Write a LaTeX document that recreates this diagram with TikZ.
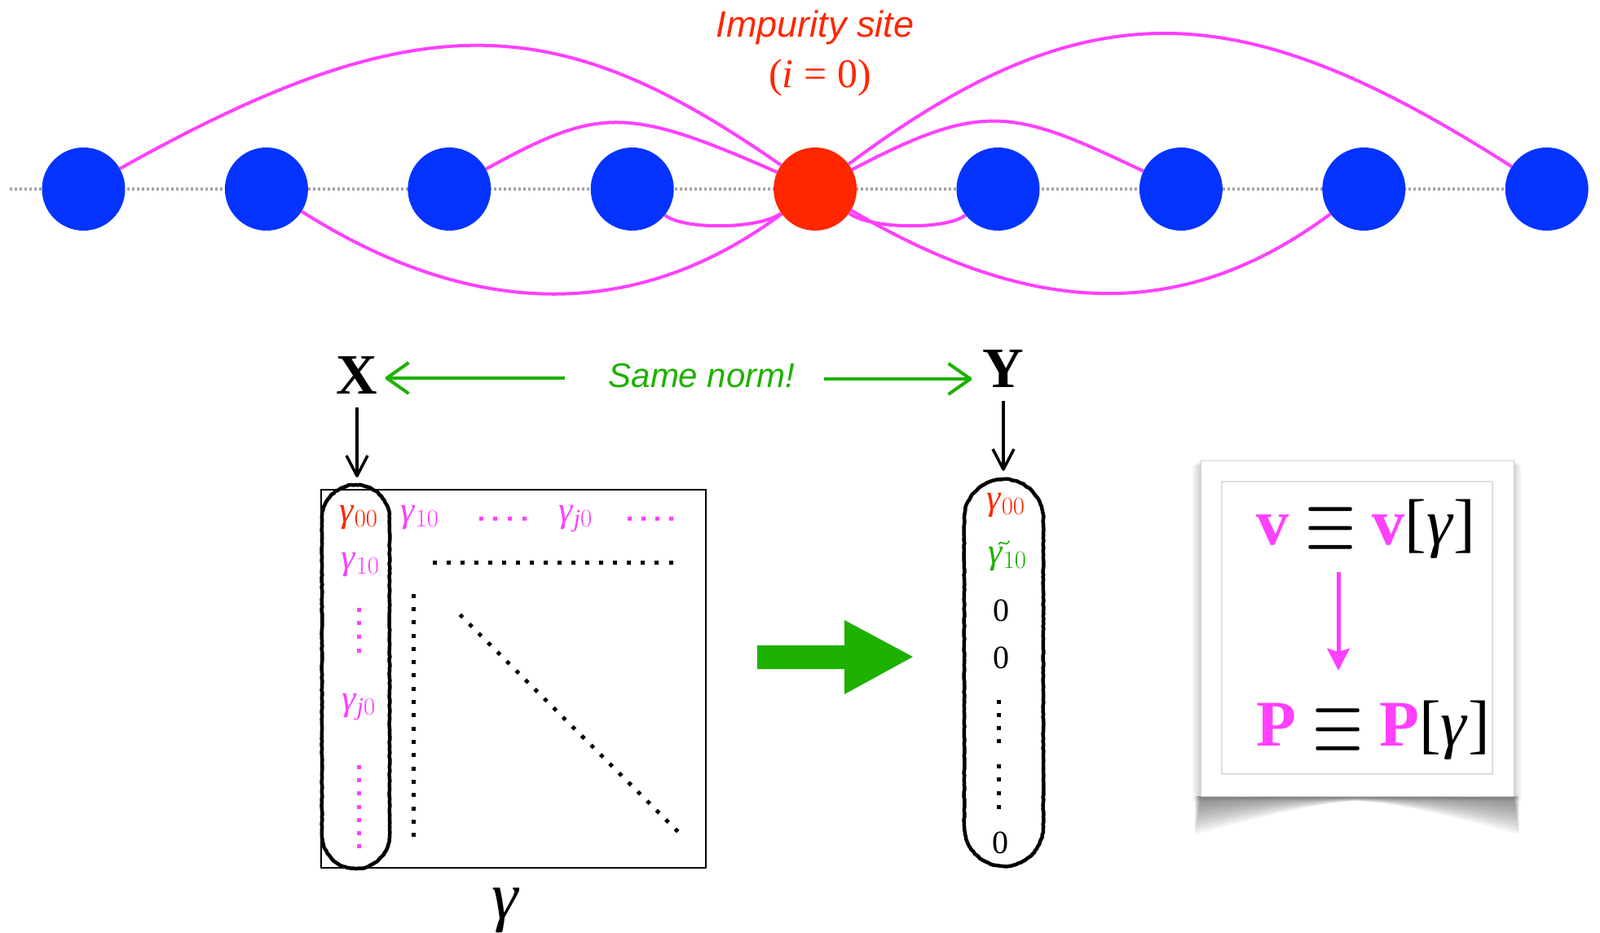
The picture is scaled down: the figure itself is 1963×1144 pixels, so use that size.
\documentclass[tikz,border=0pt]{standalone}
\usepackage{fix-cm}
\usepackage{fontspec}
\setmainfont{Liberation Serif}
\newfontfamily\helv{Liberation Sans}
\usetikzlibrary{arrows.meta,decorations.pathmorphing}
\definecolor{siteblue}{RGB}{4,51,255}
\definecolor{sitered}{RGB}{255,38,0}
\definecolor{mag}{RGB}{255,64,255}
\definecolor{grn}{RGB}{29,177,0}
\newcommand{\gam}{\textit{γ}}
\newcommand{\fsz}[1]{\fontsize{#1}{#1}\selectfont}
\newcommand{\bigequiv}{\raisebox{-0.125em}{\scalebox{1}[1.5]{$\equiv$}}}
\begin{document}
\begin{tikzpicture}[x=1pt,y=-1pt,
  site/.style={circle, inner sep=0pt, minimum size=102pt},
  hop/.style={draw=mag, line width=4pt},
  latt/.style={draw=gray!70, line width=3.5pt, dash pattern=on 3pt off 3pt},
  ovalline/.style={draw=black, line width=4.5pt, line join=round, line cap=round, decorate, decoration={random steps,segment length=3pt,amplitude=0.5pt}},
  normarrow/.style={draw=grn, line width=4pt, line join=round, -{Straight Barb[length=27pt,width=38pt,line join=round]}},
  downarrow/.style={draw=black, line width=3.5pt, line join=round, -{Straight Barb[length=25pt,width=26pt,line join=round]}},
  txt/.style={inner sep=0pt, anchor=base}]
\useasboundingbox (0,0) rectangle (1963,1144);

% ---------- lattice ----------
\coordinate (lineL) at (12,232);
\coordinate (lineR) at (1950,232);
\draw[latt] (lineL) -- (lineR);
\foreach \i/\c in {1/siteblue,2/siteblue,3/siteblue,4/siteblue,5/sitered,6/siteblue,7/siteblue,8/siteblue,9/siteblue}
  \node[site, fill=\c] (n\i) at ({102.5+224.4*(\i-1)},232) {};

\draw[hop] (n1) .. controls (519,-2) and (688,14) .. (n5);
\draw[hop] (n3) .. controls (734,132) and (767,129) .. (n5);
\draw[hop] (n4) .. controls (838,282) and (930,282) .. (n5);
\draw[hop] (n2) .. controls (585,396) and (785,392) .. (n5);
\draw[hop] (n5) .. controls (1337,-19) and (1524,-7) .. (n9);
\draw[hop] (n5) .. controls (1207,123) and (1243,134) .. (n7);
\draw[hop] (n5) .. controls (1070,282) and (1162,282) .. (n6);
\draw[hop] (n5) .. controls (1249,379) and (1438,407) .. (n8);

\node[txt, text=sitered] (imp) at (1000,45) {\helv\itshape\fsz{45}Impurity site};
\node[txt, text=sitered] (impi) at (1006,107) {\fsz{50}(\textit{i} = 0)};

% ---------- X, Y, same norm ----------
\node[txt] (X) at (438,483) {\fsz{70}\bfseries X};
\node[txt] (Y) at (1231,475) {\fsz{70}\bfseries Y};
\node[txt, text=grn] (same) at (861,475) {\helv\itshape\fsz{42}Same norm!};
\coordinate (gL) at (693,464);
\coordinate (gR) at (1011,465);
\draw[normarrow, shorten >=9pt] (gL) -- (gL -| X.east);
\draw[normarrow, shorten >=13pt] (gR) -- (gR -| Y.west);

% ---------- matrix ----------
\node[draw, line width=2pt, inner sep=0pt, minimum width=472pt, minimum height=464pt] (mat) at (630,833) {};
\node[inner sep=0pt, minimum width=83pt, minimum height=471pt] (ovalX) at (436.5,830.5) {};
\draw[ovalline] (395,636.5) -- (395,1024.5) arc[start angle=180, end angle=0, radius=41.5]
   -- (478,636.5) arc[start angle=0, end angle=-180, radius=41.5] -- cycle;
\draw[downarrow, shorten <=17pt, shorten >=9pt] (X.south) -- (X.south |- ovalX.north);

\node[txt, text=sitered] (m00) at (440,640) {\fsz{44}\gam$_{00}$};
\node[txt, text=mag] (m10r) at (515,640) {\fsz{44}\gam$_{10}$};
\node[txt, text=mag] (mj0r) at (706,640) {\fsz{44}\gam$_{\mathit{j}0}$};
\node[txt, text=mag] (m10c) at (442,698) {\fsz{44}\gam$_{10}$};
\node[txt, text=mag] (mj0c) at (440,871) {\fsz{44}\gam$_{\mathit{j}0}$};
\node[txt] (gamlab) at (621,1127) {\fsz{82}\gam};

\foreach \i in {0,...,3} \fill[mag] ({437.5},{748+16.7*\i-2.5}) rectangle ++(5,5);
\foreach \i in {0,...,6} \fill[mag] ({437.5},{941+16.33*\i-2.5}) rectangle ++(5,5);
\foreach \i in {0,...,3} \fill[mag] ({590+17.7*\i-2.5},633.5) rectangle ++(5,5);
\foreach \i in {0,...,3} \fill[mag] ({772+17*\i-2.5},633.5) rectangle ++(5,5);
\foreach \i in {0,...,17} \fill[black] ({533+17.06*\i-2.5},687.5) rectangle ++(5,5);
\foreach \i in {0,...,18} \fill[black] (504.5,{731+16.33*\i-2.5}) rectangle ++(5,5);
\foreach \i in {0,...,23} \fill[black] ({566+11.48*\i},{756+11.43*\i}) +(0,-3.4) -- +(3.4,0) -- +(0,3.4) -- +(-3.4,0) -- cycle;

% ---------- big green arrow ----------
\fill[grn] (929,792) -- (1036,792) -- (1036,761) -- (1120,806) -- (1036,852) -- (1036,821) -- (929,821) -- cycle;

% ---------- Y column ----------
\node[inner sep=0pt, minimum width=97pt, minimum height=475pt] (ovalY) at (1231.5,825.5) {};
\draw[ovalline] (1183,636.5) -- (1183,1014.5) arc[start angle=180, end angle=0, radius=48.5]
   -- (1280,636.5) arc[start angle=0, end angle=-180, radius=48.5] -- cycle;
\draw[downarrow, shorten <=17pt, shorten >=10pt] (Y.south) -- (Y.south |- ovalY.north);

\node[txt, text=sitered] (y00) at (1234,625) {\fsz{44}\gam$_{00}$};
\node[txt, text=grn] (y10) at (1236,691) {\fsz{44}\gam$_{10}$};
\draw[grn, line width=1.6pt, line cap=round] (1225.5,668) .. controls (1228.5,661) and (1234,673) .. (1238,664);
\node[txt] (yz1) at (1228,762) {\fsz{40}0};
\node[txt] (yz2) at (1228,820) {\fsz{40}0};
\node[txt] (yz3) at (1227,1047) {\fsz{40}0};
\foreach \i in {0,...,3} \fill[black] (1222.5,{861+16.2*\i-2.5}) rectangle ++(5,5);
\foreach \i in {0,...,3} \fill[black] (1222.5,{940+16.7*\i-2.5}) rectangle ++(5,5);

% ---------- framed box with shadow ----------
\foreach \k in {1,...,6}
  \fill[black, opacity=0.03] ({1473-\k*1.6},{565+\k}) rectangle ({1857+\k*1.6},{977+\k});
\foreach \k in {0,...,11}
  \fill[black, opacity=0.045] ({1466+0.6*\k},977) -- ({1466+0.6*\k},{1024-3.6*\k})
     .. controls (1540,{1004-2.4*\k}) and (1610,{986-0.6*\k}) .. (1665,{983-0.4*\k})
     .. controls (1720,{986-0.6*\k}) and (1790,{1004-2.4*\k}) .. ({1864-0.6*\k},{1024-3.6*\k})
     -- ({1864-0.6*\k},977) -- cycle;
\fill[white] (1473,565) rectangle (1857,977);
\draw[gray!35, line width=1pt] (1473,565) rectangle (1857,977);
\draw[gray!25, line width=1.5pt] (1499,591) rectangle (1831,950);

\node[inner sep=0pt, anchor=base west] (vline) at (1541,668) {\fsz{80}\textcolor{mag}{\textbf{v}} \bigequiv{} \textcolor{mag}{\textbf{v}}[\gam]};
\node[inner sep=0pt, anchor=base west] (Pline) at (1541,915) {\fsz{80}\textcolor{mag}{\textbf{P}} \bigequiv{} \textcolor{mag}{\textbf{P}}[\gam]};
\coordinate (va) at (1642,702);
\coordinate (vb) at (1642,823);
\draw[draw=mag, line width=5pt, -{Stealth[length=27pt,width=27pt,inset=4pt]}] (va) -- (vb);
\end{tikzpicture}
\end{document}
